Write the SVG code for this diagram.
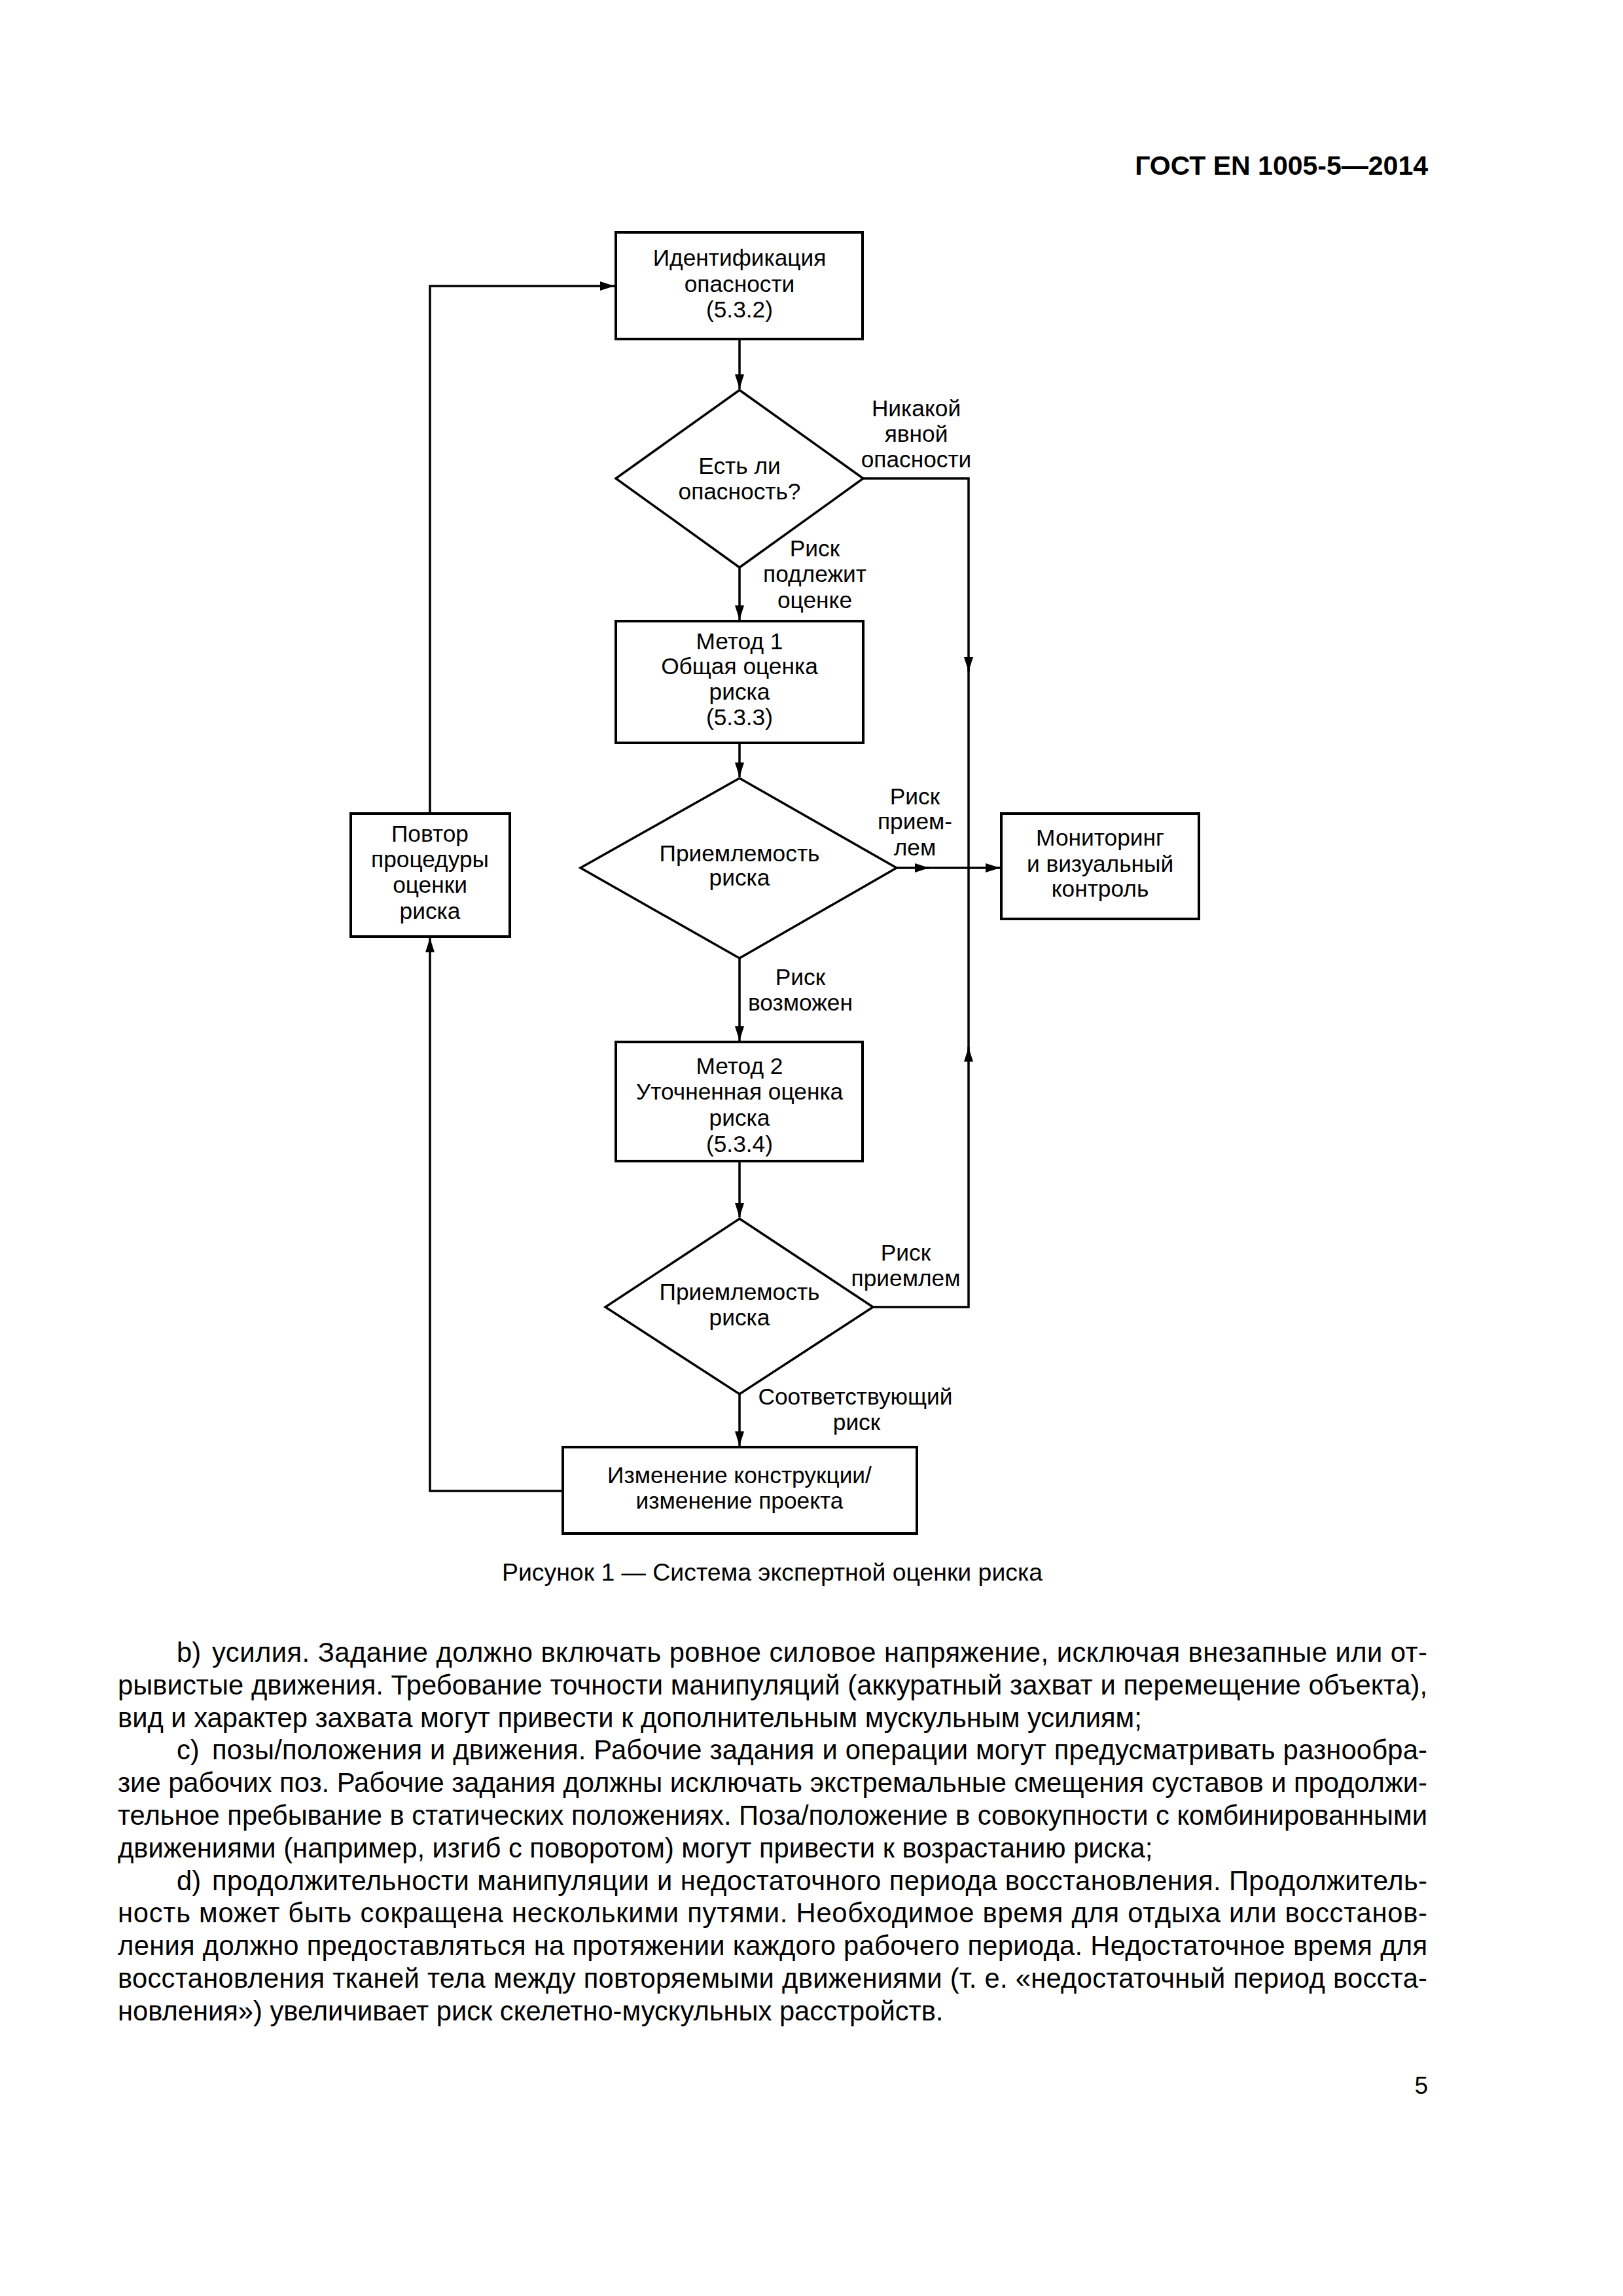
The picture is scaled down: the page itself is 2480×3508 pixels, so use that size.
<svg xmlns="http://www.w3.org/2000/svg" width="2480" height="3508" viewBox="0 0 2480 3508">
<style>
.t{font-family:"Liberation Sans",Arial,sans-serif;font-size:35.3px;fill:#000;text-anchor:middle}
.box{fill:#fff;stroke:#000;stroke-width:4}
.dia{fill:#fff;stroke:#000;stroke-width:3.5}
.conn{fill:none;stroke:#000;stroke-width:3.5}
.body{font-family:"Liberation Sans",Arial,sans-serif;font-size:41.7px;fill:#000}
.cap{font-family:"Liberation Sans",Arial,sans-serif;font-size:37.4px;fill:#000;text-anchor:middle}
.hdr{font-family:"Liberation Sans",Arial,sans-serif;font-size:41px;font-weight:bold;fill:#000;text-anchor:end}
.pg{font-family:"Liberation Sans",Arial,sans-serif;font-size:37px;fill:#000;text-anchor:end}
</style>
<defs>
<marker id="ah" markerUnits="userSpaceOnUse" markerWidth="22" markerHeight="14" refX="22" refY="7" orient="auto"><path d="M0,0 L22,7 L0,14 z" fill="#000"/></marker>
</defs>
<rect width="2480" height="3508" fill="#fff"/>
<text class="hdr" x="2182" y="267">ГОСТ EN 1005-5—2014</text>

<g id="connectors">
<path class="conn" d="M1130,518 V594" marker-end="url(#ah)"/>
<path class="conn" d="M1130,867 V947" marker-end="url(#ah)"/>
<path class="conn" d="M1319,731 H1480 V1026" marker-end="url(#ah)"/>
<path class="conn" d="M1480,1020 V1326"/>
<path class="conn" d="M1130,1135 V1187" marker-end="url(#ah)"/>
<path class="conn" d="M1370,1326 H1420" marker-end="url(#ah)"/>
<path class="conn" d="M1415,1326 H1528" marker-end="url(#ah)"/>
<path class="conn" d="M1130,1464 V1590" marker-end="url(#ah)"/>
<path class="conn" d="M1130,1774 V1860" marker-end="url(#ah)"/>
<path class="conn" d="M1334,1997 H1480 V1600" marker-end="url(#ah)"/>
<path class="conn" d="M1480,1606 V1326"/>
<path class="conn" d="M1130,2130 V2209" marker-end="url(#ah)"/>
<path class="conn" d="M860,2278 H657 V1433" marker-end="url(#ah)"/>
<path class="conn" d="M657,1243 V437 H939" marker-end="url(#ah)"/>
</g>

<g id="n-ident">
<rect class="box" x="941" y="355" width="377" height="163"/>
<text class="t" x="1130" y="406">Идентификация</text>
<text class="t" x="1130" y="446">опасности</text>
<text class="t" x="1130" y="485">(5.3.2)</text>
</g>

<g id="n-hazard">
<polygon class="dia" points="1130,596 1319,731 1130,867 941,731"/>
<text class="t" x="1130" y="724">Есть ли</text>
<text class="t" x="1130" y="763">опасность?</text>
</g>

<g id="lbl-nohazard">
<text class="t" x="1400" y="636">Никакой</text>
<text class="t" x="1400" y="675">явной</text>
<text class="t" x="1400" y="714">опасности</text>
</g>

<g id="lbl-assess">
<text class="t" x="1245" y="850">Риск</text>
<text class="t" x="1245" y="889">подлежит</text>
<text class="t" x="1245" y="929">оценке</text>
</g>

<g id="n-method1">
<rect class="box" x="941" y="949" width="378" height="186"/>
<text class="t" x="1130" y="992">Метод 1</text>
<text class="t" x="1130" y="1030">Общая оценка</text>
<text class="t" x="1130" y="1069">риска</text>
<text class="t" x="1130" y="1108">(5.3.3)</text>
</g>

<g id="n-accept1">
<polygon class="dia" points="1130,1189 1370,1326 1130,1464 887,1326"/>
<text class="t" x="1130" y="1316">Приемлемость</text>
<text class="t" x="1130" y="1353">риска</text>
</g>

<g id="lbl-accept1">
<text class="t" x="1398" y="1229">Риск</text>
<text class="t" x="1398" y="1267">прием-</text>
<text class="t" x="1398" y="1307">лем</text>
</g>

<g id="n-monitor">
<rect class="box" x="1530" y="1243" width="302" height="161"/>
<text class="t" x="1681" y="1292">Мониторинг</text>
<text class="t" x="1681" y="1332">и визуальный</text>
<text class="t" x="1681" y="1370">контроль</text>
</g>

<g id="n-repeat">
<rect class="box" x="536" y="1243" width="243" height="188"/>
<text class="t" x="657" y="1286">Повтор</text>
<text class="t" x="657" y="1325">процедуры</text>
<text class="t" x="657" y="1364">оценки</text>
<text class="t" x="657" y="1404">риска</text>
</g>

<g id="lbl-possible">
<text class="t" x="1223" y="1505">Риск</text>
<text class="t" x="1223" y="1544">возможен</text>
</g>

<g id="n-method2">
<rect class="box" x="941" y="1592" width="377" height="182"/>
<text class="t" x="1130" y="1641">Метод 2</text>
<text class="t" x="1130" y="1680">Уточненная оценка</text>
<text class="t" x="1130" y="1720">риска</text>
<text class="t" x="1130" y="1760">(5.3.4)</text>
</g>

<g id="n-accept2">
<polygon class="dia" points="1130,1862 1334,1997 1130,2130 925,1997"/>
<text class="t" x="1130" y="1986">Приемлемость</text>
<text class="t" x="1130" y="2025">риска</text>
</g>

<g id="lbl-accept2">
<text class="t" x="1384" y="1926">Риск</text>
<text class="t" x="1384" y="1965">приемлем</text>
</g>

<g id="lbl-relevant">
<text class="t" x="1307" y="2146">Соответствующий</text>
<text class="t" x="1309" y="2185">риск</text>
</g>

<g id="n-redesign">
<rect class="box" x="860" y="2211" width="541" height="132"/>
<text class="t" x="1130" y="2266">Изменение конструкции/</text>
<text class="t" x="1130" y="2305">изменение проекта</text>
</g>

<text class="cap" x="1180" y="2415">Рисунок 1 — Система экспертной оценки риска</text>

<g id="body">
<text class="body" x="270" y="2539">b)</text>
<text class="body" x="324" y="2539" textLength="1857" lengthAdjust="spacing">усилия. Задание должно включать ровное силовое напряжение, исключая внезапные или от-</text>
<text class="body" x="180" y="2589" textLength="2001" lengthAdjust="spacing">рывистые движения. Требование точности манипуляций (аккуратный захват и перемещение объекта),</text>
<text class="body" x="180" y="2639">вид и характер захвата могут привести к дополнительным мускульным усилиям;</text>
<text class="body" x="270" y="2688">c)</text>
<text class="body" x="324" y="2688" textLength="1857" lengthAdjust="spacing">позы/положения и движения. Рабочие задания и операции могут предусматривать разнообра-</text>
<text class="body" x="180" y="2738" textLength="2001" lengthAdjust="spacing">зие рабочих поз. Рабочие задания должны исключать экстремальные смещения суставов и продолжи-</text>
<text class="body" x="180" y="2788" textLength="2001" lengthAdjust="spacing">тельное пребывание в статических положениях. Поза/положение в совокупности с комбинированными</text>
<text class="body" x="180" y="2838">движениями (например, изгиб с поворотом) могут привести к возрастанию риска;</text>
<text class="body" x="270" y="2888">d)</text>
<text class="body" x="324" y="2888" textLength="1857" lengthAdjust="spacing">продолжительности манипуляции и недостаточного периода восстановления. Продолжитель-</text>
<text class="body" x="180" y="2937" textLength="2001" lengthAdjust="spacing">ность может быть сокращена несколькими путями. Необходимое время для отдыха или восстанов-</text>
<text class="body" x="180" y="2987" textLength="2001" lengthAdjust="spacing">ления должно предоставляться на протяжении каждого рабочего периода. Недостаточное время для</text>
<text class="body" x="180" y="3037" textLength="2001" lengthAdjust="spacing">восстановления тканей тела между повторяемыми движениями (т. е. «недостаточный период восста-</text>
<text class="body" x="180" y="3087">новления») увеличивает риск скелетно-мускульных расстройств.</text>
</g>

<text class="pg" x="2182" y="3199">5</text>
</svg>
